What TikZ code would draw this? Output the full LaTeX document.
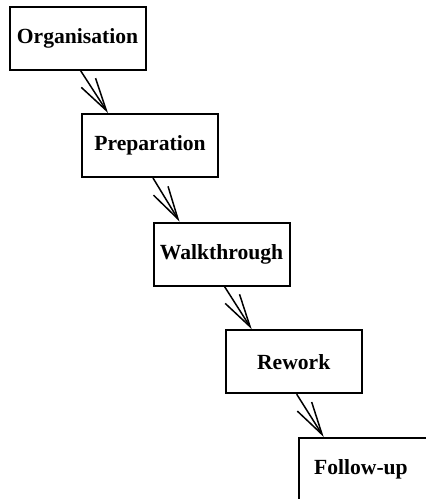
\documentclass[tikz,border=0pt]{standalone}
\usepackage{fontspec}
\setmainfont{Liberation Serif}
\usepackage{tikz}
\usetikzlibrary{arrows.meta, positioning}

\begin{document}
\begin{tikzpicture}[
  x=0.5pt, y=-0.5pt,
  box/.style={rectangle, draw=black, line width=1pt, fill=white,
              minimum width=68pt, minimum height=31.5pt, inner sep=0pt,
              font=\fontsize{10.8}{13}\selectfont\bfseries},
  arrow/.style={-{Straight Barb[length=16.5pt, width=8.5pt]}, line width=0.75pt}
]
\useasboundingbox (0,0) rectangle (425,499);

\node[box] (org)    at (77.5,38)    {Organisation};
\node[box] (prep)   at (150,145.5)  {Preparation};
\node[box] (walk)   at (221.5,254)  {Walkthrough};
\node[box] (rework) at (293.7,361.7) {Rework};
\node[box, anchor=west, minimum width=90pt, text width=74.6pt, align=left,
      inner xsep=7.7pt] (follow) at (297.7,469.5) {Follow-up};

\draw[arrow] ([xshift=1.5pt]org.south)    -- ([xshift=-21pt]prep.north);
\draw[arrow] ([xshift=1.5pt]prep.south)   -- ([xshift=-21pt]walk.north);
\draw[arrow] ([xshift=1.5pt]walk.south)   -- ([xshift=-21pt]rework.north);
\draw[arrow] ([xshift=1.5pt]rework.south) -- ([xshift=13pt]follow.north west);
\end{tikzpicture}
\end{document}
